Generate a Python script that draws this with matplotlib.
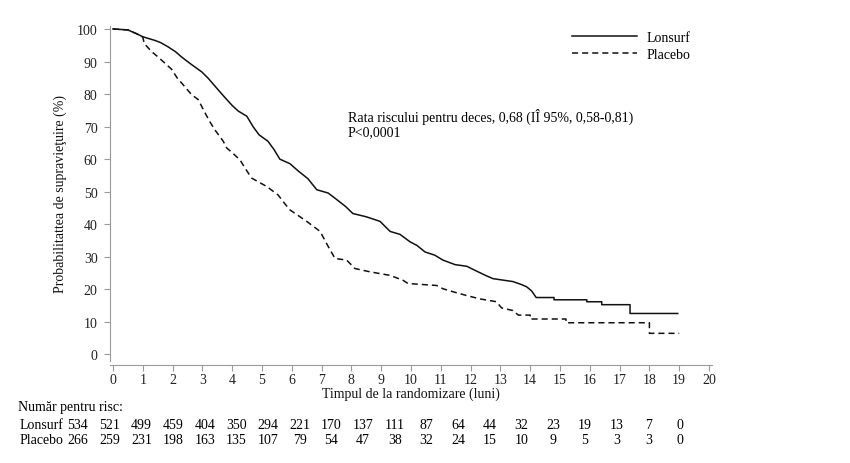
import matplotlib
matplotlib.use("Agg")
import matplotlib.pyplot as plt

plt.rcParams["font.family"] = ["Liberation Serif", "DejaVu Serif"]

# Kaplan-Meier curves (months, survival %)
# dense part is drawn as a line, flat tails keep both corner points
lonsurf_t = [0, 0.5, 0.8, 1.0, 1.4, 1.6, 1.85, 2.1, 2.3, 2.6, 2.98, 3.2, 3.53, 3.76,
             4.0, 4.2, 4.49, 4.7, 4.9, 5.2, 5.4, 5.6, 5.94, 6.2, 6.54, 6.84, 7.22,
             7.45, 7.8, 8.05, 8.5, 8.96, 9.3, 9.63, 9.97, 10.2, 10.47, 10.8, 11.07,
             11.48, 11.87, 12.25, 12.5, 12.75, 13.42, 13.7, 13.88, 14.05, 14.2,
             14.8, 14.8, 15.9, 15.9, 16.4, 16.4, 17.35, 17.35, 18.95]
lonsurf_s = [100, 99.7, 98.5, 97.6, 96.5, 95.8, 94.5, 93, 91.4, 89.3, 86.8, 84.8, 81.3,
             78.9, 76.5, 74.8, 73.2, 70, 67.5, 65.5, 63, 60, 58.6, 56.5, 54, 50.6, 49.6,
             48, 45.5, 43.3, 42.3, 40.9, 37.8, 36.9, 34.6, 33.5, 31.5, 30.5, 29, 27.6,
             27.1, 25.4, 24.3, 23.3, 22.4, 21.5, 20.8, 19.5, 17.5,
             17.5, 16.8, 16.8, 16.2, 16.2, 15.3, 15.3, 12.6, 12.6]

placebo_t = [0, 0.5, 0.8, 1.0, 1.05, 1.3, 1.5, 1.68, 1.97, 2.15, 2.35, 2.64, 2.86, 3.09,
             3.25, 3.42, 3.7, 3.82, 4.0, 4.26, 4.45, 4.65, 5.16, 5.54, 5.75, 5.94, 6.5,
             6.95, 7.22, 7.45, 7.84, 8.12, 8.62, 9.3, 9.73, 9.9, 10.86, 11.07, 11.4,
             11.87, 12.3, 12.87, 13.04, 13.42, 13.6, 14.0, 14.0, 15.2, 15.2, 18.0,
             18.0, 19.0]
placebo_s = [100, 99.7, 98.5, 97.5, 95.5, 93, 91.5, 90, 87.6, 85, 82.9, 79.8, 78.3, 74.2,
             71.5, 69, 65.5, 63.4, 62, 59.8, 57, 54.2, 51.6, 49, 46.5, 44.4, 40.9, 37.8,
             33.2, 29.5, 29, 26.4, 25.4, 24.3, 22.8, 21.8, 21.2, 20.2, 19.3, 18.1, 17.1,
             16.2, 14.3, 13.5, 12.1, 12.1, 10.9, 10.9, 9.75, 9.75, 6.5, 6.5]

# Number at risk
risk_lonsurf = [534, 521, 499, 459, 404, 350, 294, 221, 170, 137, 111, 87, 64, 44, 32,
                23, 19, 13, 7, 0]
risk_placebo = [266, 259, 231, 198, 163, 135, 107, 79, 54, 47, 38, 32, 24, 15, 10, 9,
                5, 3, 3, 0]

W, H = 850, 464
fig = plt.figure(figsize=(W / 100, H / 100), dpi=100)
ax = fig.add_axes([110 / W, 1 - 362 / H, 602 / W, (362 - 26.7) / H])

ax.plot(lonsurf_t, lonsurf_s, color="#111111", lw=1.1, label="Lonsurf")
ax.plot(placebo_t, placebo_s, color="#111111", lw=1.1,
        linestyle=(0, (4, 2.6)), label="Placebo")

ax.set_xlim(-0.1, 20.1)
ax.set_ylim(-2, 101)
ax.set_xticks(range(0, 21))
ax.set_yticks(range(0, 101, 10))

grey = "#9a9a9a"
for side in ["top", "right"]:
    ax.spines[side].set_visible(False)
ax.spines["left"].set_color(grey)
ax.spines["bottom"].set_color(grey)
ax.spines["bottom"].set_position(("outward", 3))
ax.tick_params(axis="both", colors=grey, labelcolor="#222222", labelsize=10,
               length=4, width=0.8, pad=2)
ax.tick_params(axis="y", pad=5)

ax.set_xlabel("Timpul de la randomizare (luni)", fontsize=10, color="#111111",
              labelpad=0)
ax.set_ylabel("Probabilitattea de supravieţuire (%)", fontsize=10, color="#111111",
              labelpad=7)

ax.text(348 / W, 1 - 117 / H, "Rata riscului pentru deces, 0,68 (IÎ 95%, 0,58-0,81)",
        transform=fig.transFigure, fontsize=10, va="center", ha="left")
ax.text(348 / W, 1 - 133 / H, "P<0,0001", transform=fig.transFigure, fontsize=10,
        va="center", ha="left")

ax.legend(loc="upper left", bbox_to_anchor=(572 / W, 1 - 32 / H),
          bbox_transform=fig.transFigure, frameon=False, fontsize=10,
          handlelength=4.7, handletextpad=0.7, labelspacing=0.3, borderaxespad=0,
          borderpad=0)

# Number at risk table
fig.text(18 / W, 1 - 408 / H, "Număr pentru risc:", fontsize=10, va="center")
fig.text(20 / W, 1 - 426 / H, "Lonsurf", fontsize=10, va="center")
fig.text(20 / W, 1 - 441 / H, "Placebo", fontsize=10, va="center")
x0, x1 = 78, 680
for i, (a, b) in enumerate(zip(risk_lonsurf, risk_placebo)):
    xp = x0 + (x1 - x0) * i / (len(risk_lonsurf) - 1)
    fig.text(xp / W, 1 - 426 / H, str(a), fontsize=10, va="center", ha="center")
    fig.text(xp / W, 1 - 441 / H, str(b), fontsize=10, va="center", ha="center")

fig.savefig("out.png", dpi=100)
